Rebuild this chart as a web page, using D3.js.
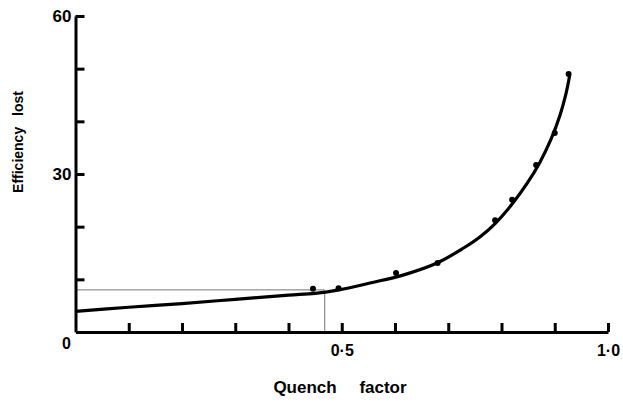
<!DOCTYPE html>
<html>
<head>
<meta charset="utf-8">
<script src="https://cdn.jsdelivr.net/npm/d3@7"></script>
<style>
  body { margin: 0; background: #fff; }
  text { font-family: "Liberation Sans", Arial, sans-serif; font-weight: bold; fill: #000; }
</style>
</head>
<body>
<svg id="chart" width="623" height="402"></svg>
<script>
// measured points
var pointX = [0.446, 0.494, 0.602, 0.68, 0.788, 0.82, 0.865, 0.90, 0.926];
var pointY = [8.2, 8.3, 11.2, 13.1, 21.2, 25.1, 31.7, 37.8, 49.0];

// fitted curve
var curveX = [0, 0.1, 0.2, 0.3, 0.4, 0.45, 0.495, 0.553, 0.615, 0.679, 0.728, 0.76, 0.788, 0.82, 0.848, 0.872, 0.893, 0.91, 0.921, 0.928];
var curveY = [3.9, 4.7, 5.4, 6.2, 7.0, 7.35, 8.0, 9.3, 10.8, 13.1, 15.9, 18.1, 20.6, 24.3, 28.2, 32.2, 36.6, 41.2, 45.2, 48.7];

// reading lines
var readX = 0.468;
var readY = 8.0;

var xTicks = [0.1, 0.2, 0.3, 0.4, 0.5, 0.6, 0.7, 0.8, 0.9, 1.0];
var xLabels = {0.5: "0·5", 1.0: "1·0"};
var yTicks = [10, 20, 30, 40, 50, 60];
var yLabels = {30: "30", 60: "60"};

var svg = d3.select("#chart");

var x = d3.scaleLinear().domain([0, 1]).range([75.5, 608]);
var y = d3.scaleLinear().domain([0, 60]).range([332, 16]);

// reading lines
svg.append("line")
    .attr("x1", x(0)).attr("x2", x(readX))
    .attr("y1", y(readY)).attr("y2", y(readY))
    .attr("stroke", "#777").attr("stroke-width", 1);
svg.append("line")
    .attr("x1", x(readX)).attr("x2", x(readX))
    .attr("y1", y(0)).attr("y2", y(7.4))
    .attr("stroke", "#777").attr("stroke-width", 1);

// axes
var xAxis = d3.axisBottom(x)
    .tickValues(xTicks)
    .tickSizeInner(-9)
    .tickSizeOuter(0)
    .tickPadding(13)
    .tickFormat(function (d) { return xLabels[d] || ""; });

var gx = svg.append("g")
    .attr("transform", "translate(0," + y(0) + ")")
    .call(xAxis);

var yAxis = d3.axisLeft(y)
    .tickValues(yTicks)
    .tickSizeInner(-9)
    .tickSizeOuter(0)
    .tickPadding(4)
    .tickFormat(function (d) { return yLabels[d] || ""; });

var gy = svg.append("g")
    .attr("transform", "translate(" + x(0) + ",0)")
    .call(yAxis);

[gx, gy].forEach(function (g) {
    g.select(".domain").attr("stroke", "#000").attr("stroke-width", 3);
    g.selectAll(".tick line").attr("stroke", "#000").attr("stroke-width", 3);
    g.selectAll(".tick text")
        .attr("font-size", 16)
        .attr("font-family", "Liberation Sans, Arial, sans-serif")
        .attr("font-weight", "bold")
        .attr("fill", "#000");
});
gy.selectAll(".tick text").attr("font-size", 17);

svg.append("text")
    .attr("x", x(0) - 9)
    .attr("y", y(0) + 17)
    .attr("text-anchor", "middle")
    .attr("font-size", 16)
    .text("0");

// curve
var line = d3.line()
    .x(function (d, i) { return x(curveX[i]); })
    .y(function (d, i) { return y(curveY[i]); })
    .curve(d3.curveCatmullRom.alpha(0.5));

svg.append("path")
    .datum(curveX)
    .attr("d", line)
    .attr("fill", "none")
    .attr("stroke", "#000")
    .attr("stroke-width", 3.2);

// points
svg.selectAll(".pt")
    .data(pointX)
    .enter().append("circle")
    .attr("class", "pt")
    .attr("cx", function (d) { return x(d); })
    .attr("cy", function (d, i) { return y(pointY[i]); })
    .attr("r", 3)
    .attr("fill", "#000");

// axis titles
svg.append("text")
    .attr("x", 340)
    .attr("y", 393)
    .attr("text-anchor", "middle")
    .attr("font-size", 17)
    .attr("word-spacing", 18)
    .text("Quench factor");

svg.append("text")
    .attr("transform", "translate(23,142) rotate(-90)")
    .attr("text-anchor", "middle")
    .attr("font-size", 14)
    .attr("word-spacing", 7)
    .text("Efficiency lost");
</script>
</body>
</html>
